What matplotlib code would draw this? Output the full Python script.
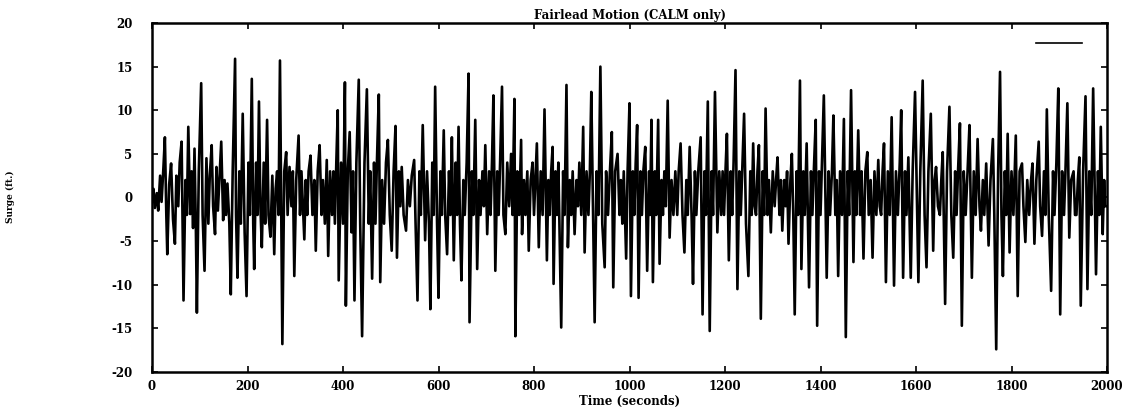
import matplotlib
matplotlib.use("Agg")
import matplotlib.pyplot as plt
from matplotlib.lines import Line2D

# Surge record: (time s, surge ft) at the turning points
surge_record = [
    (0, -0.5), (3, 1.0), (6, -1.2), (10, 0.5), (13, -1.5), (17, 2.5), (20, -0.5), (24, 3.5), (27, 6.9), (30, -2),
    (32, -6.5), (36, 1.5), (40, 3.9), (44, -2.5), (48, -5.3), (51, 2.5), (55, -1.0), (58, 4.0), (62, 6.4), (64, -3),
    (66, -11.8), (70, 2), (73, -2), (76, 8.1), (80, -1.9), (83, 3.0), (86, -3.5), (89, 5.6), (92, -4), (94, -13.2),
    (98, 3), (103, 13.1), (106, -2), (110, -8.4), (114, 4.5), (118, -3.0), (121, 2.5), (125, 6.0), (128, -1), (132, -4.2),
    (135, 3.5), (138, -1.5), (142, 3.0), (145, 6.4), (149, -2.6), (152, 2.0), (155, -2.0), (158, 1.6), (162, -3), (165, -11.1),
    (169, 3), (174, 15.9), (176, -2), (179, -9.2), (183, 3), (186, -3), (190, 9.6), (194, -4), (198, -11.3), (202, 4),
    (205, -2), (209, 13.6), (212, -3), (214, -8.2), (218, 4), (221, -2), (224, 11.0), (227, -1), (230, -5.7), (234, 4),
    (237, -3), (241, 8.9), (244, -2), (248, -4.5), (252, 2.5), (256, -6.5), (259, 1), (262, 3.0), (265, -2), (268, 15.7),
    (271, -3), (273, -16.8), (277, 3), (281, 5.2), (284, -2.0), (288, 3.5), (292, -1), (295, 3), (298, -9.0), (302, 2),
    (307, 7.1), (310, -2), (313, 3), (316, -1), (319, -4.8), (322, 2), (325, -2), (328, 3), (332, 4.8), (336, -2),
    (340, 2), (343, -6.1), (347, 3), (351, 6.0), (355, -2), (358, 2), (362, -3), (366, 4.3), (369, -6.7), (373, 3),
    (377, -2), (380, 3), (383, -3), (386, 4), (389, 10), (391, -9.5), (396, 4), (400, -3), (404, 13.2), (406, -12.4),
    (410, 3), (414, 7.5), (418, -4), (421, 3), (424, -11.8), (428, 4), (433, 13.5), (436, -3), (440, -15.9), (445, 4),
    (450, 12.4), (454, -3), (457, 3), (461, -9.3), (465, 4), (468, -3), (471, 4), (475, 11.8), (478, -9.7), (482, 2),
    (486, -3), (490, 4), (494, 6.6), (498, -2), (502, -6.1), (506, 3), (510, 8.2), (513, -6.9), (517, 3), (520, -1),
    (523, 3.5), (527, -2), (532, -3.8), (536, 2), (540, -1), (544, 2.5), (549, 4.3), (552, -3), (556, -11.8), (560, 3),
    (563, -2), (567, 8.3), (572, -4.9), (576, 3.0), (580, -3), (583, -12.8), (587, 4), (590, -2), (593, 12.7), (597, -3),
    (600, -11.5), (604, 3), (607, -2), (611, 7.7), (614, -2), (618, -6.5), (622, 3), (625, -2), (628, 6.9), (632, -7.2),
    (636, 4), (639, -2), (642, 8.1), (645, -3), (648, -9.5), (652, 2), (655, -2), (659, 4), (663, 14.2), (665, -14.3),
    (670, 3), (673, -2), (677, 8.9), (681, -8.2), (685, 2), (688, -2), (692, 3), (695, -1), (698, 6.0), (702, -4.2),
    (706, 3), (709, -2), (712, 4), (715, 11.7), (719, -8.4), (723, 3), (726, -2), (729, 4), (733, 12.7), (736, -2),
    (740, -4.2), (744, 4), (748, -1), (752, 5), (755, -2), (759, 11.3), (761, -15.9), (765, 3), (769, -2), (773, 6.6),
    (775, -4.2), (779, 2), (782, -2), (786, 3), (789, -6.1), (793, 2), (797, 4.0), (800, -2), (803, 2), (806, 6.2),
    (810, -5.7), (814, 3), (818, -2), (822, 10.1), (827, -7.2), (830, 2), (833, -2), (836, 3), (839, 5.8), (841, -9.9),
    (845, 3), (848, -2), (851, 4), (857, -14.9), (861, 3), (864, -2), (868, 12.9), (871, -5.7), (875, 2), (878, -2),
    (881, 3), (885, -4.2), (889, 2), (892, -1), (895, 4.0), (899, -2), (903, 8.1), (906, -6.3), (910, 3), (914, -2),
    (917, 3), (920, 12.1), (924, -3), (927, -14.3), (931, 3), (935, -2), (939, 15.0), (943, -3), (948, -8.0), (951, 3),
    (955, -2), (959, 3), (963, 7.5), (966, -10.3), (970, 3), (975, 5.0), (979, -2), (982, 2), (985, -3), (988, 3),
    (993, -7.0), (996, 3), (1000, 10.8), (1003, -11.3), (1007, 3), (1010, -2), (1013, 4), (1016, 8.3), (1019, -11.5), (1023, 3),
    (1026, -2), (1029, 3), (1033, 5.8), (1037, -8.4), (1041, 3), (1043, -2), (1046, 8.9), (1049, -9.7), (1053, 3), (1056, -2),
    (1060, 8.9), (1063, -7.6), (1067, 2), (1070, -2), (1073, 3), (1076, -1), (1080, 11.1), (1084, -4.6), (1088, 2), (1092, -2),
    (1096, 3), (1100, -2), (1103, 3), (1107, 6.2), (1111, -2), (1115, -6.3), (1119, 2), (1122, -2), (1126, 5.8), (1130, -2),
    (1133, -9.9), (1137, 3), (1140, -2), (1144, 3), (1149, 6.9), (1153, -13.4), (1157, 3), (1160, -2), (1164, 11.0), (1168, -15.3),
    (1172, 3), (1175, -2), (1179, 12.1), (1184, -4.0), (1188, 3), (1192, -2), (1195, 3), (1198, -2), (1201, 3), (1204, 7.3),
    (1208, -7.2), (1212, 3), (1215, -2), (1218, 4), (1222, 14.6), (1226, -10.5), (1230, 3), (1233, -2), (1236, 3), (1240, 9.6),
    (1244, -3), (1249, -9.0), (1253, 3), (1256, -2), (1259, 6.2), (1262, -1), (1265, -2), (1268, 3), (1271, 6.0), (1275, -13.9),
    (1279, 3), (1282, -2), (1285, 10.2), (1289, -2), (1292, 2), (1296, -4.0), (1300, 3), (1304, -1), (1307, 2), (1310, 4.6),
    (1314, -2), (1317, 2), (1320, -3.8), (1324, 2), (1327, -1), (1330, 3), (1333, -5.3), (1337, 2), (1340, 5.0), (1343, -2),
    (1346, -13.4), (1350, 3), (1353, -2), (1357, 13.4), (1360, -8.2), (1364, 3), (1367, -2), (1371, 6.2), (1376, -10.3), (1380, 3),
    (1383, -2), (1386, 3), (1390, 8.9), (1393, -14.7), (1397, 3), (1400, -2), (1403, 4), (1407, 11.7), (1413, -9.2), (1417, 3),
    (1420, -2), (1424, 3), (1427, 9.4), (1431, -2), (1434, 2), (1437, -9.0), (1441, 3), (1445, -2), (1449, 9.0), (1453, -16.0),
    (1457, 3), (1460, -2), (1464, 12.3), (1469, -7.4), (1472, 3), (1475, -2), (1479, 7.7), (1483, -2), (1486, 3), (1490, -7.0),
    (1494, 3), (1498, 5.2), (1501, -2), (1505, 2), (1509, -6.9), (1513, 3), (1517, -2), (1521, 4.3), (1524, -1), (1527, -2),
    (1530, 3), (1533, 6.2), (1537, -9.7), (1541, 3), (1545, -2), (1549, 9.2), (1554, -10.1), (1558, 3), (1562, -2), (1566, 4),
    (1569, 10.0), (1573, -9.2), (1577, 3), (1580, -2), (1584, 4.6), (1589, -9.2), (1593, 3), (1598, 12.1), (1605, -9.7), (1609, 3),
    (1614, 13.4), (1618, -2), (1622, -8.0), (1626, 3), (1631, 9.6), (1636, -6.1), (1639, 2), (1642, 3.5), (1646, -1), (1650, -2),
    (1653, 2), (1656, 5.2), (1661, -12.2), (1665, 3), (1670, 10.4), (1674, -2), (1678, -6.9), (1682, 3), (1685, -2), (1688, 3),
    (1692, 8.5), (1696, -14.7), (1700, 3), (1704, -2), (1708, 3), (1712, 8.3), (1717, -9.2), (1721, 3), (1725, -2), (1729, 6.7),
    (1733, -1), (1736, -3.8), (1740, 2), (1743, -2), (1747, 3.9), (1752, -5.5), (1756, 2), (1761, 6.7), (1764, -2), (1768, -17.4),
    (1772, 3), (1776, 14.4), (1779, -2), (1782, -9.0), (1786, 3), (1789, -2), (1792, 7.3), (1796, -6.3), (1800, 3), (1804, -2),
    (1809, 7.1), (1813, -11.3), (1817, 3), (1822, 3.9), (1825, -1), (1829, -5.1), (1833, 2), (1837, -2.0), (1841, 2), (1844, 3.9),
    (1848, -5.3), (1852, 2), (1857, 6.4), (1860, -1), (1864, -4.4), (1868, 3), (1871, -2), (1874, 10.1), (1878, -2), (1883, -10.7),
    (1887, 3), (1890, -2), (1894, 4), (1898, 12.5), (1902, -13.4), (1906, 3), (1910, -2), (1913, 3), (1917, 10.8), (1921, -4.6),
    (1925, 2), (1930, 3.0), (1933, -2), (1936, -2.0), (1939, 2), (1942, 4.6), (1945, -12.4), (1950, 3), (1955, 11.6), (1959, -10.5),
    (1963, 3), (1967, -2), (1971, 12.5), (1977, -8.8), (1981, 3), (1984, -2), (1987, 8.1), (1991, -4.2), (1994, 2), (1996, -1),
    (2000, -1.0),
]
time_s = [p[0] for p in surge_record]
surge_ft = [p[1] for p in surge_record]

x_ticks = [0, 200, 400, 600, 800, 1000, 1200, 1400, 1600, 1800, 2000]
y_ticks = [-20, -15, -10, -5, 0, 5, 10, 15, 20]

W, H = 1138, 413
fig = plt.figure(figsize=(W / 100, H / 100), dpi=100)
ax = fig.add_axes([152 / W, 1 - 372 / H, (1107 - 152) / W, (372 - 23) / H])

ax.plot(time_s, surge_ft, color="black", linewidth=1.9)

ax.set_xlim(0, 2000)
ax.set_ylim(-20, 20)
ax.set_xticks(x_ticks)
ax.set_yticks(y_ticks)

tick_font = dict(family="DejaVu Serif", weight="bold", size=8.5)
ax.set_xticklabels([str(v) for v in x_ticks], **tick_font)
ax.set_yticklabels([str(v) for v in y_ticks], **tick_font)
ax.tick_params(axis="both", direction="in", length=4, width=1.2, top=True, right=True)
ax.tick_params(axis="y", pad=14)
ax.tick_params(axis="x", pad=6)
for s in ax.spines.values():
    s.set_linewidth(1.8)

ax.set_title("Fairlead Motion (CALM only)", family="DejaVu Serif", weight="bold", size=8.5, pad=3)
ax.set_xlabel("Time (seconds)", family="DejaVu Serif", weight="bold", size=8.5, labelpad=1)
fig.text(10 / W, 1 - 197 / H, "Surge (ft.)", rotation=90, va="center", ha="center",
         family="DejaVu Serif", weight="bold", size=6.5)

ax.legend(handles=[Line2D([0], [0], color="black", linewidth=1.2)], labels=[""],
          loc="upper right", frameon=False, handlelength=3.3, borderaxespad=0.6)

fig.savefig("out.png", dpi=100)
